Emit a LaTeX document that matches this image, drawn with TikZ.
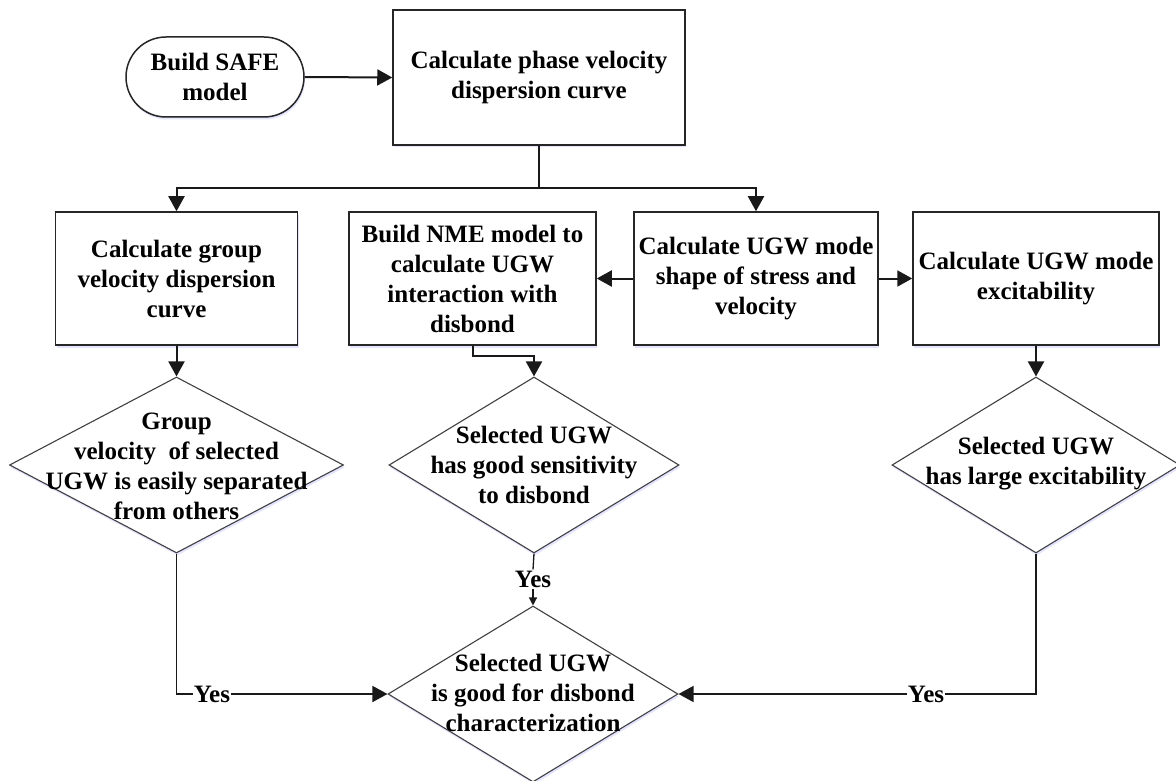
\documentclass[tikz,border=0pt]{standalone}
\usepackage{fontspec}
\setmainfont{Liberation Serif}
\usetikzlibrary{arrows.meta,shapes.geometric,shadows}
\begin{document}
\begin{tikzpicture}[x=1pt,y=-1pt,
  every node/.style={font=\fontsize{25}{30}\selectfont\bfseries},
  shad/.style={drop shadow={opacity=0.3,fill=blue!35,shadow xshift=1pt,shadow yshift=-2.5pt}},
  box/.style={draw=black!85,line width=1.5pt,fill=white,shad,rectangle,minimum height=133pt,align=center,inner sep=0pt},
  term/.style={draw=black!85,line width=1.5pt,fill=white,shad,rectangle,rounded corners=40pt,minimum width=178pt,minimum height=80pt,align=center,inner sep=0pt},
  dia/.style={draw=black!75,line width=1.1pt,fill=white,shad,diamond,inner sep=0pt,minimum height=176pt},
  dtext/.style={align=center,inner sep=0pt},
  yes/.style={fill=white,inner sep=1pt},
  conn/.style={draw=black!90,line width=2pt},
  arr/.style={conn,-{Triangle[length=15pt,width=16pt]}},
  sarr/.style={conn,-{Triangle[length=8pt,width=8pt]}}
]
\useasboundingbox (0,0) rectangle (1176,781);
% nodes
\node[term] (safe) at (215,77) {Build SAFE\\model};
\node[box,minimum width=292pt,minimum height=135pt] (phase) at (539,77.5) {Calculate phase velocity\\dispersion curve};
\node[box,minimum width=242pt] (group) at (176.5,278.5) {Calculate group\\velocity dispersion\\curve};
\node[box,minimum width=247pt] (nme) at (472.5,278.5) {Build NME model to\\calculate UGW\\interaction with\\disbond};
\node[box,minimum width=244pt] (mode) at (756,278.5) {Calculate UGW mode\\shape of stress and\\velocity};
\node[box,minimum width=246pt] (exc) at (1036,278.5) {Calculate UGW mode\\excitability};
\node[dia,minimum width=334pt] (d1) at (176.5,465) {};
\node[dtext] (t1) at (176.5,466) {Group\\velocity\ \ of selected\\UGW is easily separated\\from others};
\node[dia,minimum width=290pt] (d2) at (534,465) {};
\node[dtext] (t2) at (534,465) {Selected UGW\\has good sensitivity\\to disbond};
\node[dia,minimum width=288pt] (d3) at (1036,465) {};
\node[dtext] (t3) at (1036,464) {Selected UGW\\has large excitability};
\node[dia,minimum width=290pt] (d4) at (533,694) {};
\node[dtext] (t4) at (533,693) {Selected UGW\\is good for disbond\\characterization};
\node[yes] (yesm) at (533,579) {Yes};
\node[yes] (yes1) at (212,694) {Yes};
\node[yes] (yes3) at (926,694) {Yes};
\coordinate (split) at (539,188);
% connectors
\draw[arr] (safe.east) -- (phase.west);
\draw[conn] (phase.south) -- (split);
\draw[arr] (split) -| (group.north);
\draw[arr] (split) -| (mode.north);
\draw[arr] (mode.west) -- (nme.east);
\draw[arr] (mode.east) -- (exc.west);
\draw[arr] (group.south) -- (d1.north);
\draw[arr] (nme.south) -- ++(0,10) -| (d2.north);
\draw[arr] (exc.south) -- (d3.north);
\draw[conn,line width=1.3pt] (d2.south) -- (yesm.north);
\draw[sarr,line width=1.3pt] (yesm.south) -- (d4.north);
\draw[conn,line width=1.6pt] (d1.south) |- (yes1.west);
\draw[arr,line width=1.6pt] (yes1.east) -- (d4.west);
\draw[conn,line width=1.6pt] (d3.south) |- (yes3.east);
\draw[arr,line width=1.6pt] (yes3.west) -- (d4.east);
\end{tikzpicture}
\end{document}
